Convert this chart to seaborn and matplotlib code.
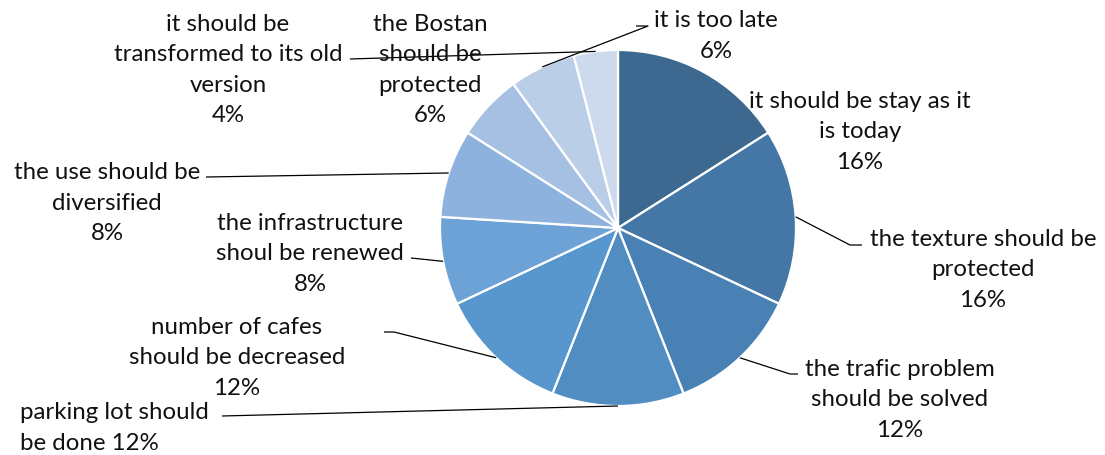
import matplotlib
matplotlib.use("Agg")
import matplotlib.pyplot as plt
import seaborn as sns
import numpy as np

categories = [
    "it should be stay as it\nis today",
    "the texture should be\nprotected",
    "the trafic problem\nshould be solved",
    "parking lot should\nbe done",
    "number of cafes\nshould be decreased",
    "the infrastructure\nshoul be renewed",
    "the use should be\ndiversified",
    "the Bostan\nshould be\nprotected",
    "it is too late",
    "it should be\ntransformed to its old\nversion",
]
values = [16, 16, 12, 12, 12, 8, 8, 6, 6, 4]
colors = ["#3D6990", "#4476A6", "#4A81B5", "#528DC2", "#5797CE",
          "#6DA2D6", "#8DB2DE", "#A6C0E4", "#BBCEE8", "#CDDAEE"]

sns.set_theme(style="white")
plt.rcParams['font.family'] = ['Lato', 'DejaVu Sans']

W, H = 1105, 456
fig = plt.figure(figsize=(W / 100, H / 100), dpi=100)
ax = fig.add_axes([0, 0, 1, 1])

cx, cy, R = 618, H - 229, 178
wedges, _ = ax.pie(values, colors=colors, startangle=90, counterclock=False,
                   center=(cx, cy), radius=R, frame=True,
                   wedgeprops=dict(edgecolor="white", linewidth=1.6))
ax.set_xlim(0, W)
ax.set_ylim(0, H)
ax.set_aspect('equal')
ax.axis('off')

# label layout: (text x, text y, ha, elbow points)
layout = [
    dict(xy=(860, 132), ha="center", path=None),
    dict(xy=(983, 270), ha="center", path=[(850, 246), (862, 246)]),
    dict(xy=(900, 400), ha="center", path=[(790, 375), (798, 375)]),
    dict(xy=(20, 428), ha="left", path=[(222, 417)]),
    dict(xy=(237, 358), ha="center", path=[(394, 333), (384, 333)]),
    dict(xy=(310, 254), ha="center", path=[(411, 259)]),
    dict(xy=(107, 203), ha="center", path=[(206, 178)]),
    dict(xy=(430, 70), ha="center", path=None),
    dict(xy=(716, 36), ha="center", path=[(648, 27), (636, 27)]),
    dict(xy=(228, 70), ha="center", path=[(350, 60)]),
]

for w, cat, v, lay in zip(wedges, categories, values, layout):
    if cat.startswith("parking"):
        txt = f"{cat} {v}%"
    else:
        txt = f"{cat}\n{v}%"
    tx, ty = lay["xy"]
    ax.text(tx, H - ty, txt, ha=lay["ha"], va="center", fontsize=17.3,
            color="#111111", linespacing=1.55, multialignment=lay["ha"])
    if lay["path"] is not None:
        mid = np.deg2rad((w.theta1 + w.theta2) / 2)
        px = w.center[0] + w.r * np.cos(mid)
        py = w.center[1] + w.r * np.sin(mid)
        pts = [(px, py)] + [(x, H - y) for x, y in lay["path"]]
        xs, ys = zip(*pts)
        ax.plot(xs, ys, color="black", linewidth=0.9, solid_capstyle="butt")

fig.savefig("out.png", dpi=100)
